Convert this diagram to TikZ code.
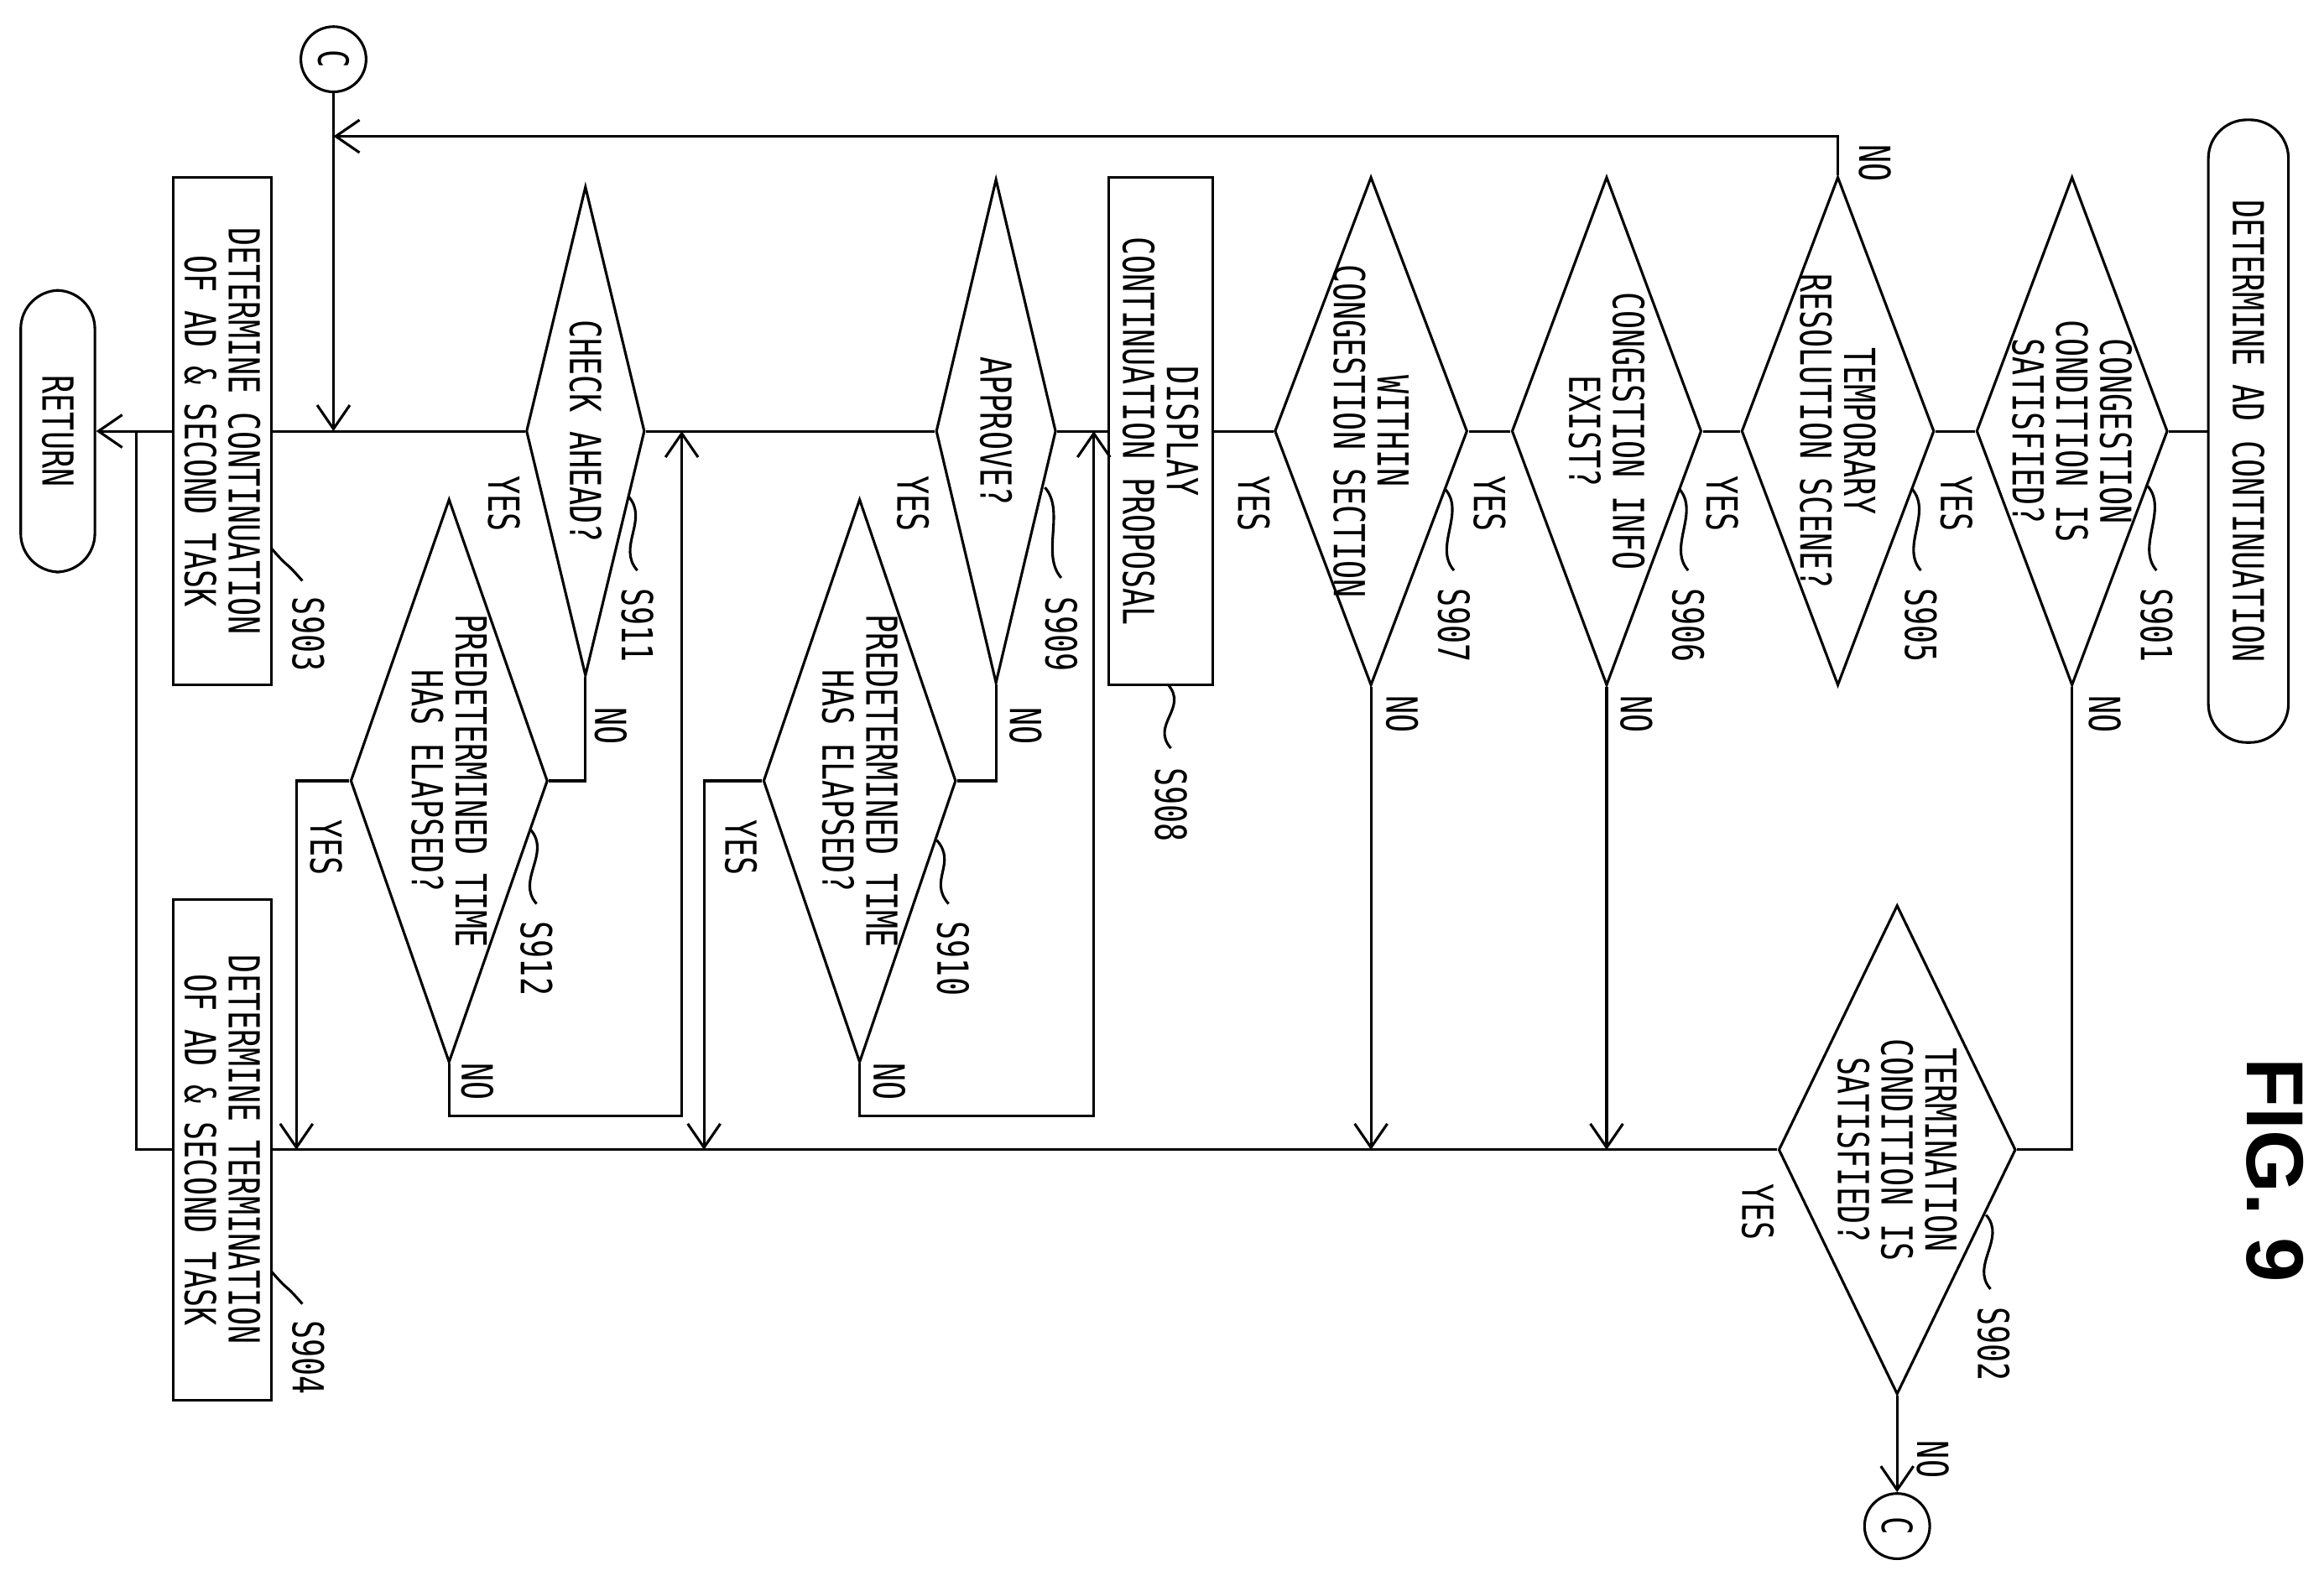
\documentclass[tikz,border=0pt]{standalone}
\usepackage{fontspec}
\setmainfont{DejaVu Sans Mono}[FakeStretch=0.72]
\newfontfamily\figfont{Liberation Sans}
\usetikzlibrary{shapes.geometric,arrows.meta,calc}
\tikzset{>={Straight Barb[length=1.6mm,width=2.2mm]}}
\tikzstyle{txt}=[rotate=-90,font=\fontsize{8.2}{8.4}\selectfont,align=center,inner sep=0]
\tikzstyle{dec}=[draw,diamond,rotate=-90,inner sep=0]
\tikzstyle{box}=[draw,rectangle,rotate=-90,inner sep=0]
\tikzstyle{term}=[draw,rectangle,rounded corners=0.26cm,rotate=-90,inner sep=0]
\tikzstyle{conn}=[draw,circle,rotate=-90,minimum size=0.44cm,inner sep=0,font=\fontsize{8}{8}\selectfont]
\def\sq#1#2{\draw (#1) .. controls +(14,16) and +(-14,-16) .. (#2)}
\begin{document}
\begin{tikzpicture}[x=0.01cm,y=-0.01cm,line width=0.5pt]
                \useasboundingbox (0,0) rectangle (1568,1067);
                % steps
                \node[term,minimum width=4.2cm,minimum height=0.54cm] (start) at (1517,291) {};
                \node[txt] (tstart) at (start) {DETERMINE AD CONTINUATION};
                \node[dec,minimum width=3.43cm,minimum height=1.29cm] (s901) at (1398,291) {};
                \node[txt] (t901) at (s901) {CONGESTION\\CONDITION IS\\SATISFIED?};
                \node[dec,minimum width=3.43cm,minimum height=1.3cm] (s905) at (1240,291) {};
                \node[txt] (t905) at (s905) {TEMPORARY\\RESOLUTION SCENE?};
                \node[dec,minimum width=3.43cm,minimum height=1.28cm] (s906) at (1084,291) {};
                \node[txt] (t906) at (s906) {CONGESTION INFO\\EXIST?};
                \node[dec,minimum width=3.43cm,minimum height=1.3cm] (s907) at (925,291) {};
                \node[txt] (t907) at (s907) {WITHIN\\CONGESTION SECTION};
                \node[box,minimum width=3.42cm,minimum height=0.7cm] (p908) at (783,291) {};
                \node[txt] (t908) at (p908) {DISPLAY\\CONTINUATION PROPOSAL};
                \node[dec,minimum width=3.4cm,minimum height=0.81cm] (s909) at (672,291) {};
                \node[txt] (t909) at (s909) {APPROVE?};
                \node[dec,minimum width=3.8cm,minimum height=1.3cm] (s910) at (580,527) {};
                \node[txt] (t910) at (s910) {PREDETERMINED TIME\\HAS ELAPSED?};
                \node[dec,minimum width=3.3cm,minimum height=0.8cm] (s911) at (395,291) {};
                \node[txt] (t911) at (s911) {CHECK AHEAD?};
                \node[dec,minimum width=3.8cm,minimum height=1.33cm] (s912) at (303,527) {};
                \node[txt] (t912) at (s912) {PREDETERMINED TIME\\HAS ELAPSED?};
                \node[box,minimum width=3.42cm,minimum height=0.66cm] (p903) at (150,291) {};
                \node[txt] (t903) at (p903) {DETERMINE CONTINUATION\\OF AD \& SECOND TASK};
                \node[term,minimum width=1.9cm,minimum height=0.5cm] (ret) at (39,291) {};
                \node[txt] (tret) at (ret) {RETURN};
                \node[dec,minimum width=3.3cm,minimum height=1.6cm] (s902) at (1280,776) {};
                \node[txt] (t902) at (s902) {TERMINATION\\CONDITION IS\\SATISFIED?};
                \node[box,minimum width=3.38cm,minimum height=0.66cm] (p904) at (150,776) {};
                \node[txt] (t904) at (p904) {DETERMINE TERMINATION\\OF AD \& SECOND TASK};
                \node[conn] (ctop) at (225,40) {C};
                \node[conn] (cbot) at (1280,1030) {C};
                \node[rotate=-90,font=\figfont\bfseries\fontsize{15.5}{16}\selectfont] (fig) at (1535,790) {FIG. 9};
                % junction points
                \coordinate (j1) at (225,92);
                \coordinate (j2) at (225,291);
                \coordinate (m1) at (738,291);
                \coordinate (m2) at (460,291);
                \coordinate (m3) at (92,291);
                \coordinate (b1) at (475,776);
                \coordinate (b2) at (200,776);
                \coordinate (b3) at (1084,776);
                \coordinate (b4) at (925,776);
                % flow
                \draw (start.south) -- (s901.north);
                \draw (s901.south) -- (s905.north);
                \draw (s905.south) -- (s906.north);
                \draw (s906.south) -- (s907.north);
                \draw (s907.south) -- (p908.north);
                \draw (p908.south) -- (s909.north);
                \draw (s909.south) -- (s911.north);
                \draw (s911.south) -- (p903.north);
                \draw[->] (p903.south) -- (ret.north);
                \draw (s901.east) |- (s902.north);
                \draw[->] (s905.west) |- (j1);
                \draw[->] (ctop) -- (j2);
                \draw[->] (s906.east) -- (b3);
                \draw[->] (s907.east) -- (b4);
                \draw (s909.east) |- (s910.north);
                \draw[->] (s910.east) -- ++(0,35) -| (m1);
                \draw[->] (s910.south) -| (b1);
                \draw (s911.east) |- (s912.north);
                \draw[->] (s912.east) -- ++(0,35) -| (m2);
                \draw[->] (s912.south) -| (b2);
                \draw (s902.south) -- (p904.north);
                \draw (p904.south) -| (m3);
                \draw[->] (s902.east) -- (cbot);
                % yes / no
                \node[txt] (y901) at (1320,340) {YES};
                \node[txt] (n901) at (1420,482) {NO};
                \node[txt] (y905) at (1162,340) {YES};
                \node[txt] (n905) at (1265,110) {NO};
                \node[txt] (y906) at (1005,340) {YES};
                \node[txt] (n906) at (1104,482) {NO};
                \node[txt] (y907) at (846,340) {YES};
                \node[txt] (n907) at (946,482) {NO};
                \node[txt] (y909) at (616,340) {YES};
                \node[txt] (n909) at (692,490) {NO};
                \node[txt] (y910) at (500,572) {YES};
                \node[txt] (n910) at (600,730) {NO};
                \node[txt] (y911) at (340,340) {YES};
                \node[txt] (n911) at (412,490) {NO};
                \node[txt] (y912) at (220,572) {YES};
                \node[txt] (n912) at (322,730) {NO};
                \node[txt] (y902) at (1186,818) {YES};
                \node[txt] (n902) at (1304,985) {NO};
                % step numbers
                \sq{1449,328}{1455,385}; \node[txt] (l901) at (1455,422) {S901};
                \sq{1290,330}{1296,385}; \node[txt] (l905) at (1296,422) {S905};
                \sq{1133,330}{1139,385}; \node[txt] (l906) at (1139,422) {S906};
                \sq{975,330}{981,385}; \node[txt] (l907) at (981,422) {S907};
                \sq{788,462}{790,505}; \node[txt] (l908) at (790,543) {S908};
                \sq{705,329}{716,390}; \node[txt] (l909) at (716,428) {S909};
                \sq{424,335}{430,385}; \node[txt] (l911) at (430,422) {S911};
                \sq{183,370}{204,392}; \node[txt] (l903) at (208,428) {S903};
                \sq{632,567}{640,610}; \node[txt] (l910) at (643,647) {S910};
                \sq{358,560}{362,610}; \node[txt] (l912) at (362,647) {S912};
                \sq{1340,820}{1343,870}; \node[txt] (l902) at (1345,907) {S902};
                \sq{183,858}{204,880}; \node[txt] (l904) at (208,916) {S904};
              \end{tikzpicture}
\end{document}
